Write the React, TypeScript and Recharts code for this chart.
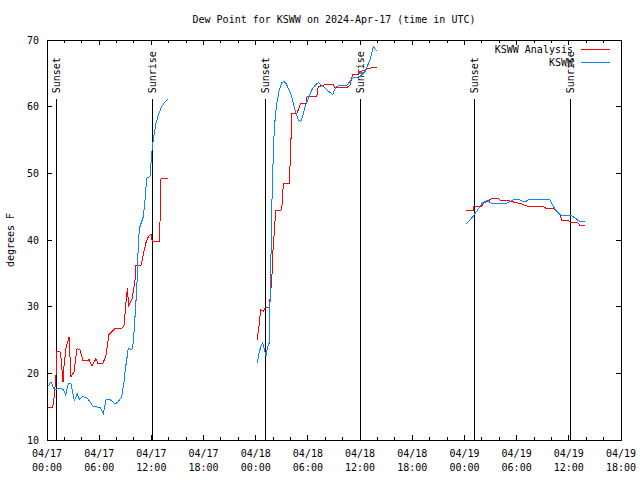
import { LineChart, Line, XAxis, YAxis, ReferenceLine, ReferenceArea, Legend } from "recharts"

const FONT = "'DejaVu Sans Mono', monospace"
const RED = "#ff0000"
const BLUE = "#0a84ff"

// hours since 04/17 00:00 UTC -> dew point (F)
const analysisDay1 = [
  [0.12, 14.9], [0.61, 14.9], [0.75, 15.5], [1.03, 19.5], [1.15, 23.3], [1.49, 23.3],
  [1.61, 22.3], [1.84, 18.7], [1.95, 21], [2.18, 23.8], [2.53, 25.4], [2.76, 19.5],
  [3.1, 20.2], [3.45, 23.7], [3.79, 23.5], [4.14, 21.9], [4.71, 21.9], [4.83, 22.1],
  [5.17, 21.1], [5.63, 22.2], [5.86, 21.5], [6.44, 21.5], [6.78, 22.75], [7.13, 25.85],
  [7.82, 26.75], [8.62, 26.75], [8.85, 27.2], [9.05, 30], [9.16, 32], [9.28, 32.75],
  [9.35, 30], [9.54, 30.5], [9.81, 31.3], [10.12, 34], [10.2, 36.2], [10.81, 36.2],
  [11.07, 37.75], [11.35, 39.5], [11.65, 40.5], [11.96, 40.9], [12.11, 39.75],
  [12.94, 39.75], [13.11, 49.25], [13.88, 49.25],
]
const stationDay1 = [
  [0.15, 18.1], [0.46, 18.75], [0.84, 17.5], [1.3, 17.75], [1.87, 17.6], [2.15, 16.75],
  [2.45, 18.5], [2.76, 18.4], [3.14, 15.9], [3.48, 16.9], [3.71, 16.1], [4.06, 16.5],
  [4.56, 16.35], [4.94, 15.75], [5.32, 15], [6.09, 14.9], [6.47, 14.0], [6.78, 16],
  [7.24, 16.1], [7.82, 15.4], [8.2, 15.75], [8.59, 16.5], [8.89, 19], [8.97, 20.25],
  [9.35, 23.75], [9.74, 23.5], [9.92, 24.5], [10.12, 28.5], [10.31, 32.5], [10.43, 36],
  [10.5, 40], [10.69, 42], [11.07, 43.5], [11.27, 46], [11.46, 49.25], [11.84, 49.5],
  [11.96, 51.5], [12.11, 54], [12.34, 56], [12.53, 57.5], [12.8, 58.75], [13.19, 60],
  [13.57, 60.75], [13.88, 61.1],
]
const analysisDay2 = [
  [24.18, 25], [24.3, 26.5], [24.41, 27.25], [24.55, 29.5], [24.87, 29.35], [25.07, 29.75],
  [25.56, 29.9], [25.72, 32.25], [25.84, 33.75], [25.91, 36], [26.02, 39.5], [26.14, 41],
  [26.22, 43], [26.33, 44.5], [26.91, 44.5], [27.06, 45.5], [27.17, 48.5], [27.86, 48.5],
  [28.02, 53.5], [28.14, 59], [28.71, 59], [28.89, 59.5], [29.17, 60.5], [29.78, 60.5],
  [29.9, 61.5], [31.01, 61.5], [31.19, 63], [31.97, 63.3], [32.92, 63.3], [33.11, 62.8],
  [34.46, 62.85], [34.84, 63.25], [35.15, 64.85], [35.79, 64.85], [35.99, 65.25],
  [36.56, 65.5], [36.94, 65.75], [37.91, 65.9],
]
const stationDay2 = [
  [24.18, 21.5], [24.38, 23], [24.58, 24], [24.81, 24.6], [24.96, 23.75], [25.19, 22.6],
  [25.33, 23.75], [25.53, 24.5], [25.64, 30.5], [25.72, 35], [25.84, 44.5], [25.95, 50],
  [26.1, 55.5], [26.22, 58], [26.41, 60.5], [26.71, 62.5], [26.99, 63.6], [27.25, 63.75],
  [27.48, 63.5], [27.75, 62.75], [28.02, 62], [28.32, 60.5], [28.63, 59], [28.89, 58],
  [29.17, 57.75], [29.4, 58.5], [29.67, 60], [30.04, 61.25], [30.44, 62.5], [30.82, 63.2],
  [31.19, 63.6], [31.77, 63], [32.34, 62.35], [32.85, 61.85], [33.23, 63], [33.69, 63.2],
  [34.46, 63.2], [35.22, 64.35], [35.99, 64.5], [36.56, 65.25], [37.14, 67], [37.52, 69],
  [37.91, 68.35],
]
const analysisDay3 = [
  [48.18, 44.5], [49.02, 44.5], [49.1, 45.1], [49.98, 45.1], [50.25, 45.6], [50.59, 45.75],
  [51.13, 46.2], [51.89, 46.2], [52.09, 46], [53.04, 45.9], [53.43, 45.75], [54.04, 45.6],
  [54.5, 45.45], [55.16, 45.1], [57.03, 45.1], [57.38, 44.75], [58.18, 44.75], [58.61, 44.3],
  [58.99, 43.9], [59.18, 43], [59.94, 43], [60.14, 42.7], [61.0, 42.7], [61.23, 42.25],
  [61.86, 42.25],
]
const stationDay3 = [
  [48.18, 42.4], [48.64, 43], [49.02, 43.6], [49.56, 44.6], [50.02, 45.5], [50.65, 45.95],
  [51.09, 45.5], [52.78, 45.5], [53.24, 45.75], [53.62, 46.05], [54.27, 46.05], [54.67, 45.8],
  [55.08, 45.8], [55.42, 46.1], [57.84, 46.05], [58.07, 45.4], [58.47, 44.5], [58.99, 43.8],
  [59.37, 43.6], [60.25, 43.7], [60.71, 43.3], [61.17, 42.85], [61.86, 42.85],
]

const sunsetHours = [1.05, 25.1, 49.12]
const sunriseHours = [12.11, 36.1, 60.16]
const sunLineTop = 61.1

const xTicks = [0, 2, 4, 6, 8, 10, 12, 14, 16, 18, 20, 22, 24, 26, 28, 30, 32, 34, 36, 38, 40, 42, 44, 46, 48, 50, 52, 54, 56, 58, 60, 62, 64, 66]
const xTickDays = ["04/17", "04/17", "04/17", "04/17", "04/18", "04/18", "04/18", "04/18", "04/19", "04/19", "04/19", "04/19"]
const xTickTimes = ["00:00", "06:00", "12:00", "18:00", "00:00", "06:00", "12:00", "18:00", "00:00", "06:00", "12:00", "18:00"]
const yTicks = [10, 20, 30, 40, 50, 60, 70]

const PLOT = { left: 47, right: 621, top: 40, bottom: 440 }

function withGaps(segments: number[][][]) {
  const rows: { t: number; v: number | null }[] = []
  segments.forEach((seg, i) => {
    if (i > 0) rows.push({ t: (seg[0][0] + rows[rows.length - 1].t) / 2, v: null })
    seg.forEach(([t, v]) => rows.push({ t, v }))
  })
  return rows
}

const analysisData = withGaps([analysisDay1, analysisDay2, analysisDay3])
const stationData = withGaps([stationDay1, stationDay2, stationDay3])

function XTick(props: any) {
  const { x, payload } = props
  const h = payload.value
  const major = h % 6 === 0
  const len = major ? 5 : 3
  const i = h / 6
  return (
    <g>
      <line x1={x} x2={x} y1={PLOT.bottom} y2={PLOT.bottom - len} stroke="#000" shapeRendering="crispEdges" />
      <line x1={x} x2={x} y1={PLOT.top} y2={PLOT.top + len} stroke="#000" shapeRendering="crispEdges" />
      {major && (
        <text x={x} y={PLOT.bottom + 17} textAnchor="middle" fontFamily={FONT} fontSize={10} fill="#000">
          <tspan x={x}>{xTickDays[i]}</tspan>
          <tspan x={x} dy={14}>{xTickTimes[i]}</tspan>
        </text>
      )}
    </g>
  )
}

function YTick(props: any) {
  const { y, payload } = props
  return (
    <g>
      <line x1={PLOT.left} x2={PLOT.left + 5} y1={y} y2={y} stroke="#000" shapeRendering="crispEdges" />
      <line x1={PLOT.right} x2={PLOT.right - 5} y1={y} y2={y} stroke="#000" shapeRendering="crispEdges" />
      <text x={PLOT.left - 8} y={y} dy="0.35em" textAnchor="end" fontFamily={FONT} fontSize={10} fill="#000">
        {payload.value}
      </text>
    </g>
  )
}

const sunLabel = (text: string) => (props: any) => {
  const { viewBox } = props
  const x = viewBox.x
  const y = viewBox.y - 6
  return (
    <text transform={`rotate(-90 ${x} ${y})`} x={x} y={y} dy="0.35em" textAnchor="start" fontFamily={FONT} fontSize={10} fill="#000">
      {text}
    </text>
  )
}

function LegendBox() {
  const rows = [
    { name: "KSWW Analysis", color: RED },
    { name: "KSWW", color: BLUE },
  ]
  return (
    <div style={{ fontFamily: FONT, fontSize: 10, lineHeight: "13px", color: "#000" }}>
      {rows.map((r) => (
        <div key={r.name} style={{ display: "flex", justifyContent: "flex-end", alignItems: "center", height: 13 }}>
          <span>{r.name}</span>
          <div style={{ width: 29, borderTop: `1px solid ${r.color}`, marginLeft: 8 }} />
        </div>
      ))}
    </div>
  )
}

export default function App() {
  return (
    <div style={{ position: "absolute", left: 0, top: 0, width: 640, height: 480, background: "#fff" }}>
      <div
        style={{
          position: "absolute", left: PLOT.left, width: PLOT.right - PLOT.left, top: 13,
          textAlign: "center", fontFamily: FONT, fontSize: 10, lineHeight: "14px",
        }}
      >
        Dew Point for KSWW on 2024-Apr-17 (time in UTC)
      </div>
      <div
        style={{
          position: "absolute", left: 10, top: 240, transform: "translate(-50%, -50%) rotate(-90deg)",
          fontFamily: FONT, fontSize: 10, whiteSpace: "nowrap",
        }}
      >
        degrees F
      </div>
      <LineChart width={640} height={480} margin={{ top: 40, right: 19, bottom: 0, left: 17 }}>
        <XAxis
          dataKey="t" type="number" domain={[0, 66]} ticks={xTicks} interval={0}
          tick={<XTick />} tickLine={false} axisLine={false} height={40} allowDataOverflow
        />
        <YAxis
          type="number" domain={[10, 70]} ticks={yTicks} interval={0}
          tick={<YTick />} tickLine={false} axisLine={false} width={30} allowDataOverflow
        />
        <ReferenceArea x1={0} x2={66} y1={10} y2={70} fill="none" stroke="#000" shapeRendering="crispEdges" />
        {sunsetHours.map((h) => (
          <ReferenceLine
            key={`ss${h}`} segment={[{ x: h, y: 10 }, { x: h, y: sunLineTop }]}
            stroke="#000" shapeRendering="crispEdges" label={sunLabel("Sunset")}
          />
        ))}
        {sunriseHours.map((h) => (
          <ReferenceLine
            key={`sr${h}`} segment={[{ x: h, y: 10 }, { x: h, y: sunLineTop }]}
            stroke="#000" shapeRendering="crispEdges" label={sunLabel("Sunrise")}
          />
        ))}
        <Line data={analysisData} dataKey="v" name="KSWW Analysis" stroke={RED} strokeWidth={1} dot={false} isAnimationActive={false} shapeRendering="crispEdges" />
        <Line data={stationData} dataKey="v" name="KSWW" stroke={BLUE} strokeWidth={1} dot={false} isAnimationActive={false} shapeRendering="crispEdges" />
        <Legend
          layout="horizontal" verticalAlign="middle" align="center"
          content={<LegendBox />}
          wrapperStyle={{ left: 410, top: 43, width: 200, height: 26 }}
        />
      </LineChart>
    </div>
  )
}
